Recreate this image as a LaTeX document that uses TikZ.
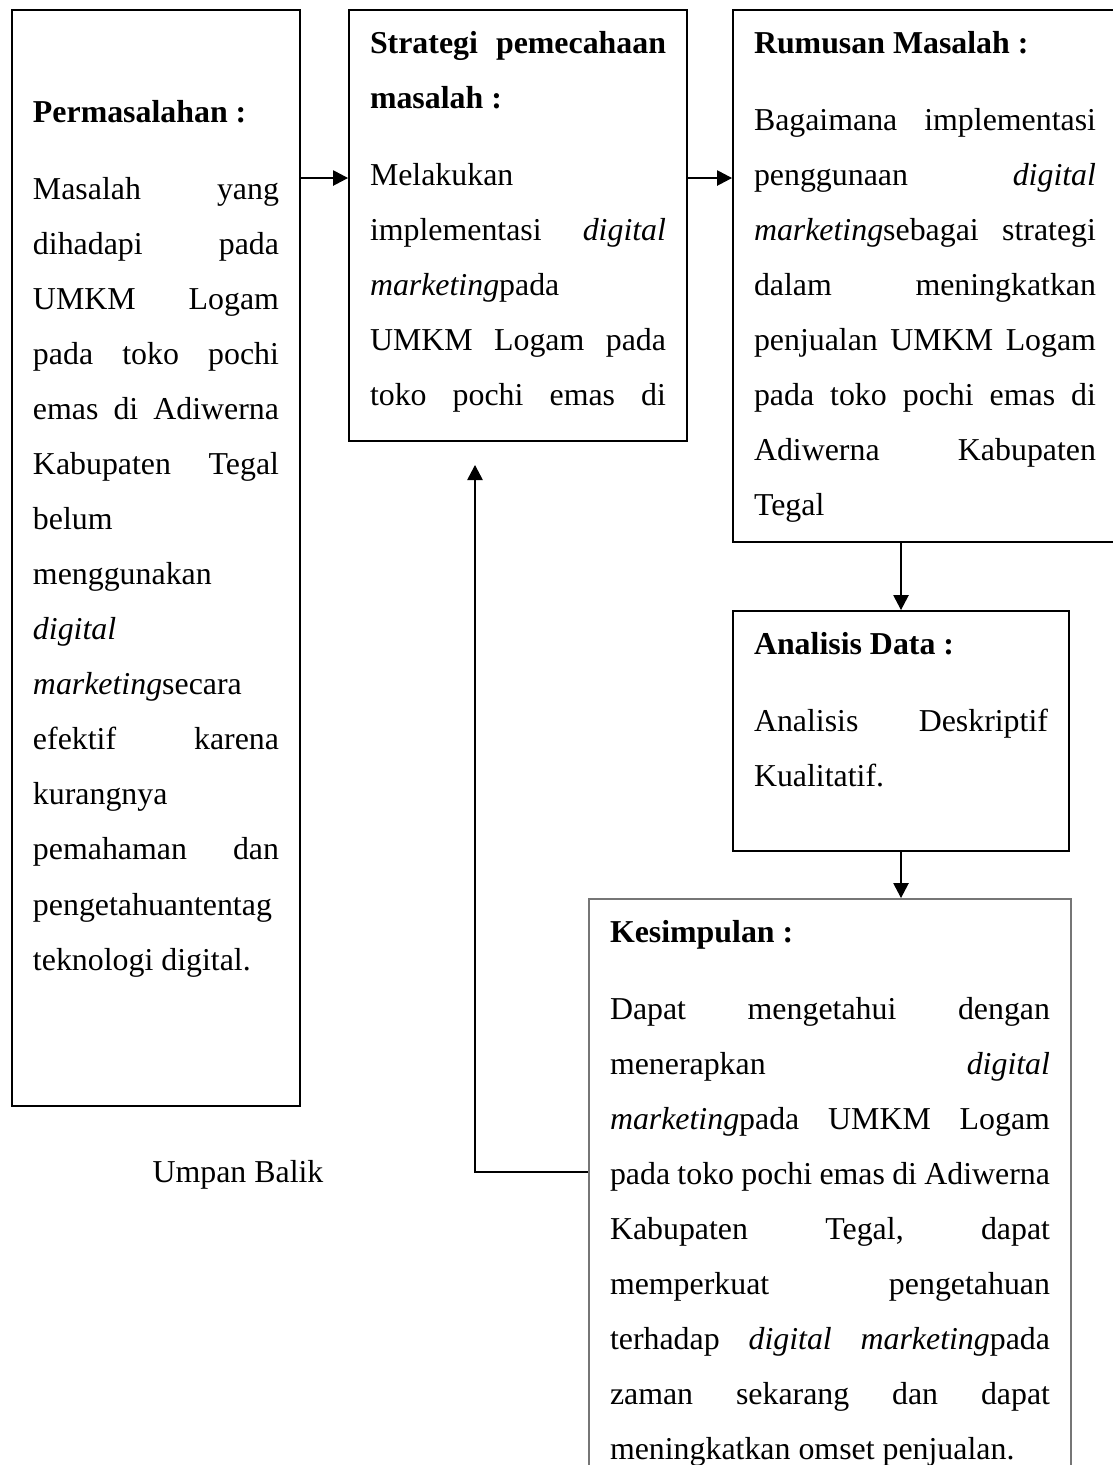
\documentclass[tikz,border=0pt]{standalone}
\usepackage{fontspec}
\setmainfont{Liberation Serif}
\usepackage{tikz}
\usetikzlibrary{arrows.meta}
\definecolor{kesgray}{RGB}{118,118,118}

\begin{document}
\begin{tikzpicture}[x=0.015cm, y=-0.015cm, >={Triangle[length=6.4pt,width=6.6pt]},
  box/.style={draw, line width=0.85pt, anchor=north west, inner xsep=0.315cm, inner ysep=0pt,
    font=\fontsize{13.6}{23.5}\selectfont},
  link/.style={line width=0.5pt}]
\useasboundingbox (0,0) rectangle (1113,1465);

\node[box, name=permasalahan] at (11,9) {\parbox[t][16.44cm][t]{3.69cm}{\vspace*{38.4pt}%
\textbf{Permasalahan :}\\[9.4pt]
Masalah\hfill yang\\
dihadapi\hfill pada\\
UMKM\hfill Logam\\
pada\hfill toko\hfill pochi\\
emas\hfill di\hfill Adiwerna\\
Kabupaten\hfill Tegal\\
belum\\
menggunakan\\
\textit{digital}\\
\textit{marketing}secara\\
efektif\hfill karena\\
kurangnya\\
pemahaman\hfill dan\\
pengetahuantentag\\
teknologi digital.}};

\node[box, name=strategi] at (348,9) {\parbox[t][6.465cm][t]{4.44cm}{\vspace*{9pt}%
\textbf{Strategi\hfill pemecahaan}\\
\textbf{masalah :}\\[9.4pt]
Melakukan\\
implementasi\hfill\textit{digital}\\
\textit{marketing}pada\\
UMKM\hfill Logam\hfill pada\\
toko\hfill pochi\hfill emas\hfill di}};

\node[box, name=rumusan] at (732,9) {\parbox[t][7.98cm][t]{5.13cm}{\vspace*{9pt}%
\textbf{Rumusan Masalah :}\\[9.4pt]
Bagaimana\hfill implementasi\\
penggunaan\hfill\textit{digital}\\
\textit{marketing}sebagai\hfill strategi\\
dalam\hfill meningkatkan\\
penjualan\hfill UMKM\hfill Logam\\
pada\hfill toko\hfill pochi\hfill emas\hfill di\\
Adiwerna\hfill Kabupaten\\
Tegal}};

\node[box, name=analisis] at (732,610) {\parbox[t][3.6cm][t]{4.41cm}{\vspace*{9pt}%
\textbf{Analisis Data :}\\[9.4pt]
Analisis\hfill Deskriptif\\
Kualitatif.}};

\node[box, draw=kesgray, name=kesimpulan] at (588,898) {\parbox[t][8.88cm][t]{6.6cm}{\vspace*{9pt}%
\textbf{Kesimpulan :}\\[9.4pt]
Dapat\hfill mengetahui\hfill dengan\\
menerapkan\hfill\textit{digital}\\
\textit{marketing}pada\hfill UMKM\hfill Logam\\
pada\hfill toko\hfill pochi\hfill emas\hfill di\hfill Adiwerna\\
Kabupaten\hfill Tegal,\hfill dapat\\
memperkuat\hfill pengetahuan\\
terhadap\hfill\textit{digital}\hfill\textit{marketing}pada\\
zaman\hfill sekarang\hfill dan\hfill dapat\\
meningkatkan omset penjualan.}};

\node[name=umpanbalik, font=\fontsize{13.6}{16}\selectfont] at (238,1175) {Umpan Balik};

\draw[link]([yshift=-2.535cm]permasalahan.north east) edge[->]([yshift=-2.535cm]strategi.north west);
\draw[link]([yshift=-2.535cm]strategi.north east) edge[->]([yshift=-2.535cm]rumusan.north west);
\draw[link](rumusan.south -| analisis.north) edge[->](analisis.north);
\draw[link](analisis.south) edge[->](analisis.south |- kesimpulan.north);
\draw[link,->]([yshift=-4.11cm]kesimpulan.north west) -| ([xshift=-0.645cm,yshift=-0.345cm]strategi.south);

\end{tikzpicture}
\end{document}
